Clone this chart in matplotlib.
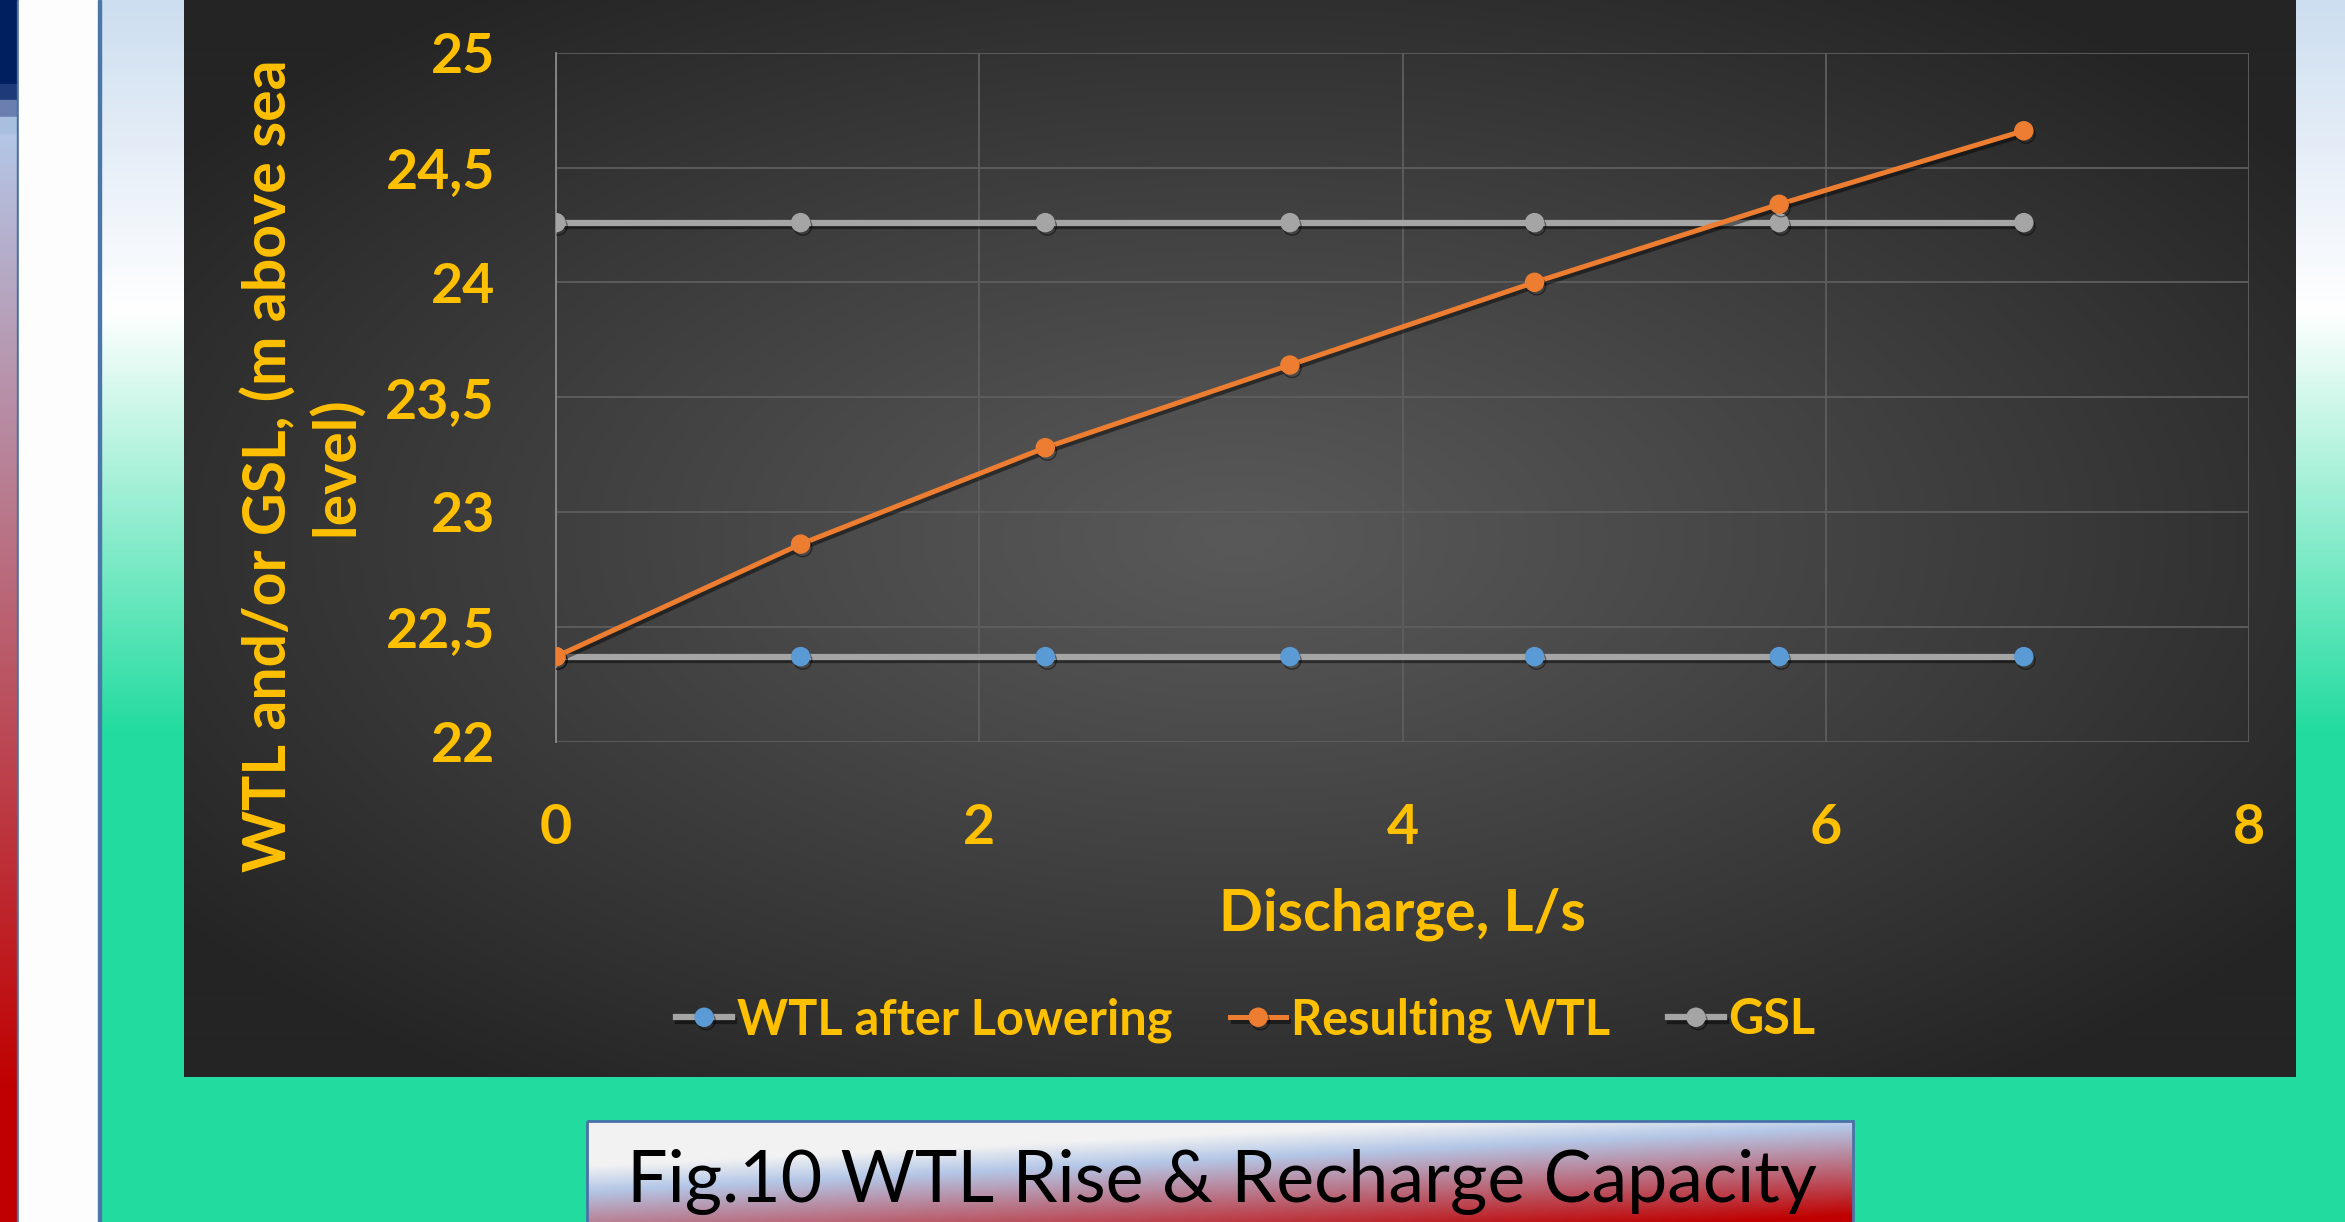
import numpy as np
import matplotlib
matplotlib.use('Agg')
import matplotlib.pyplot as plt
import matplotlib.patheffects as pe
from matplotlib.colors import to_rgb
from matplotlib.patches import Rectangle

# datos del grafico
descarga = [0, 1.156, 2.312, 3.468, 4.624, 5.78, 6.936]
wtl_bajado = [22.37, 22.37, 22.37, 22.37, 22.37, 22.37, 22.37]
wtl_resultante = [22.37, 22.86, 23.28, 23.64, 24.00, 24.34, 24.66]
gsl = [24.26, 24.26, 24.26, 24.26, 24.26, 24.26, 24.26]

x_ticks = [0, 2, 4, 6, 8]
y_ticks = [22, 22.5, 23, 23.5, 24, 24.5, 25]
nombres = ['WTL after Lowering', 'Resulting WTL', 'GSL']

AMARILLO = '#ffc000'
NARANJA = '#ed7d31'
GRIS = '#a5a5a5'
AZUL = '#5b9bd5'
VERDE = '#23dc9f'

W, H = 2345, 1222
plt.rcParams['font.family'] = ['Lato', 'DejaVu Sans']


def degradado(c0, c1, t):
    """Mezcla lineal de dos colores, t en [0, 1]."""
    a = np.array(to_rgb(c0))
    b = np.array(to_rgb(c1))
    t = np.clip(t, 0, 1)[..., None]
    return a + (b - a) * t


fig = plt.figure(figsize=(W / 100, H / 100), dpi=100)

# fondo de la diapositiva en coordenadas de pixel
bg = fig.add_axes([0, 0, 1, 1])
bg.set_xlim(0, W)
bg.set_ylim(H, 0)
bg.axis('off')

yy = np.linspace(0, H, 400)
col = np.zeros((400, 3))
arriba = yy <= 310
col[arriba] = degradado('#cddef0', '#ffffff', yy[arriba] / 310)
col[~arriba] = degradado('#ffffff', VERDE, (yy[~arriba] - 310) / 420)
bg.imshow(col[:, None, :], extent=[101, W, H, 0], aspect='auto', zorder=0)

# franja izquierda
franja = degradado('#b4c7e7', '#c00000', (yy - 130) / 960)
bg.imshow(franja[:, None, :], extent=[0, 17, H, 0], aspect='auto', zorder=1)
bg.add_patch(Rectangle((0, 0), 17, 84, color='#001f5f', zorder=2))
bg.add_patch(Rectangle((0, 84), 17, 16, color='#1f3a78', zorder=2))
bg.add_patch(Rectangle((0, 100), 17, 17, color='#6a7fb0', zorder=2))
bg.add_patch(Rectangle((0, 117), 17, 16, color='#a8bfe0', zorder=2))
bg.add_patch(Rectangle((17, 0), 2, H, color='#4a6fa0', zorder=2))
bg.add_patch(Rectangle((19, 0), 80, H, color='#fdfdfd', zorder=2))
bg.add_patch(Rectangle((98, 0), 3, H, color='#4a76a8', zorder=2))

# panel oscuro del grafico con degradado radial
px0, px1, py0, py1 = 184, 2296, 0, 1077
gx, gy = np.meshgrid(np.linspace(-1, 1, 528), np.linspace(-1, 1, 270))
r = np.clip(np.sqrt(gx ** 2 + gy ** 2) / 1.25, 0, 1)
panel = degradado('#595959', '#242424', r ** 1.1)
bg.imshow(panel, extent=[px0, px1, py1, py0], aspect='auto', zorder=3,
          interpolation='bilinear')

# recuadro del pie de figura
cx0, cx1, cy0 = 587, 1853, 1121
mx, my = np.meshgrid(np.linspace(cx0, cx1, 400), np.linspace(cy0, H, 120))
s = (my - cy0) + 65 * (mx - cx0) / (cx1 - cx0)
caja = np.where((s < 45)[..., None], np.array(to_rgb('#f2f2f2')),
                np.where((s < 70)[..., None], degradado('#f2f2f2', '#b4c7e7', (s - 45) / 25),
                         degradado('#b4c7e7', '#c00000', (s - 70) / 90)))
bg.imshow(caja, extent=[cx0, cx1, H, cy0], aspect='auto', zorder=3,
          interpolation='bilinear')
bg.add_patch(Rectangle((cx0, cy0), cx1 - cx0, H - cy0 + 5, fill=False,
                       ec='#4a72a8', lw=2, zorder=4))
bg.text((cx0 + cx1) / 2 + 2, 1202, 'Fig.10 WTL Rise & Recharge Capacity',
        ha='center', va='baseline', fontsize=51.7, color='black', zorder=5)

# textos de ejes
bg.text(302, 466, 'WTL and/or GSL, (m above sea\nlevel)', rotation=90,
        ha='center', va='center', multialignment='center', linespacing=1.24,
        fontsize=42.5, fontweight='bold', color=AMARILLO, zorder=5)
bg.text(1402, 914, 'Discharge, L/s', ha='center', va='center',
        fontsize=41.7, fontweight='bold', color=AMARILLO, zorder=5)

# area de trazado
ax = fig.add_axes([556 / W, 1 - 741.6 / H, (2249 - 556) / W, (741.6 - 52.7) / H])
ax.set_facecolor('none')
ax.set_xlim(0, 8)
ax.set_ylim(22, 25)
ax.set_xticks(x_ticks)
ax.set_yticks(y_ticks)
ax.set_xticklabels([str(v) for v in x_ticks])
ax.set_yticklabels([f'{v:g}'.replace('.', ',') for v in y_ticks])
ax.tick_params(length=0, pad=44, labelsize=40, labelcolor=AMARILLO)
for lbl in ax.get_xticklabels() + ax.get_yticklabels():
    lbl.set_fontweight('bold')
ax.grid(True, color='#5e5e5e', lw=1.3)
ax.set_axisbelow(True)
for lado in ['top', 'right', 'bottom']:
    ax.spines[lado].set_visible(False)
ax.spines['left'].set_color('#8a8a8a')
ax.spines['left'].set_linewidth(1.3)

sombra = [pe.SimpleLineShadow(offset=(1.5, -2.5), shadow_color='black', alpha=0.45), pe.Normal()]
l1, = ax.plot(descarga, wtl_bajado, color=GRIS, lw=4.5, marker='o', ms=13,
              mfc=AZUL, mec=AZUL, path_effects=sombra, zorder=3, label=nombres[0])
l3, = ax.plot(descarga, gsl, color=GRIS, lw=4.5, marker='o', ms=13,
              mfc=GRIS, mec=GRIS, path_effects=sombra, zorder=3, label=nombres[2])
l2, = ax.plot(descarga, wtl_resultante, color=NARANJA, lw=3.6, marker='o', ms=13,
              mfc=NARANJA, mec=NARANJA, path_effects=sombra, zorder=4, label=nombres[1])

fig.legend(handles=[l1, l2, l3], loc='center', bbox_to_anchor=(1246 / W, 1 - 1020 / H),
           ncol=3, frameon=False, handlelength=1.14, handletextpad=0.1,
           columnspacing=1.2, labelcolor=AMARILLO,
           prop={'weight': 'bold', 'size': 35})

fig.savefig('out.png', dpi=100)
